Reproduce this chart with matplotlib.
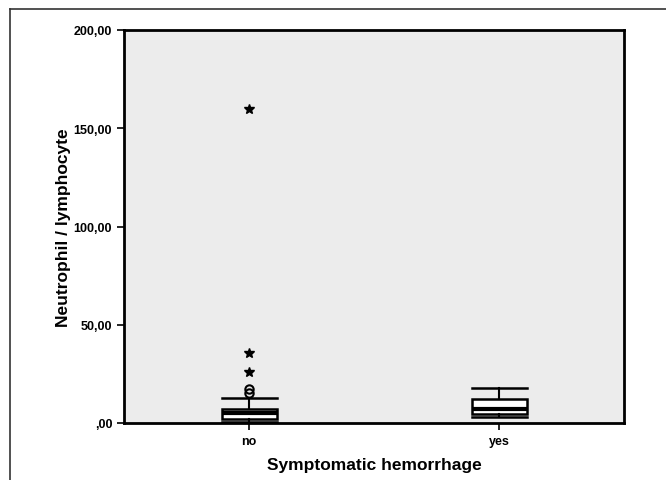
import numpy as np
import matplotlib
matplotlib.use('Agg')
import matplotlib.pyplot as plt
from matplotlib.lines import Line2D

plt.rcParams['font.family'] = ['Liberation Sans', 'DejaVu Sans']

# values
groups = ['no', 'yes']
q1 = [2.0, 4.6]
med = [5.0, 7.0]
q3 = [7.1, 12.2]
whislo = [0.3, 3.0]
whishi = [12.7, 17.8]
outliers_circle = [[15.5, 17.5], []]
outliers_star = [[26.0, 35.6, 160.0], []]

yTicks = [0, 50, 100, 150, 200]
yTickLabels = [',00', '50,00', '100,00', '150,00', '200,00']

fig = plt.figure(figsize=(6.66, 4.81), dpi=100, facecolor='w')
ax = fig.add_axes([124/666, 1-424/481, 500/666, 393/481])
ax.set_facecolor('#ececec')

stats = []
for i in range(len(groups)):
	stats.append({'label': groups[i], 'q1': q1[i], 'med': med[i], 'q3': q3[i],
				  'whislo': whislo[i], 'whishi': whishi[i], 'fliers': []})

pos = [1, 2]
ax.bxp(stats, positions=pos, widths=0.22, patch_artist=True, showfliers=False,
	   boxprops=dict(facecolor='white', edgecolor='black', linewidth=1.8),
	   medianprops=dict(color='black', linewidth=3),
	   whiskerprops=dict(color='black', linewidth=1.5),
	   capprops=dict(color='black', linewidth=1.8), capwidths=0.22)

for i, p in enumerate(pos):
	if outliers_circle[i]:
		ax.plot([p]*len(outliers_circle[i]), outliers_circle[i], 'o', mfc='none', mec='black', ms=6, mew=1.5)
	if outliers_star[i]:
		ax.plot([p]*len(outliers_star[i]), outliers_star[i], '*', color='black', ms=7)

ax.set_xlim(0.5, 2.5)
ax.set_ylim(0, 200)
ax.set_yticks(yTicks)
ax.set_yticklabels(yTickLabels, fontsize=9, fontweight='bold')
ax.set_xticks(pos)
ax.set_xticklabels(groups, fontsize=9, fontweight='bold')
ax.tick_params(axis='both', direction='out', length=5, width=1.2, color='black')
for s in ax.spines.values():
	s.set_linewidth(2)
	s.set_color('black')

ax.set_ylabel('Neutrophil / lymphocyte', fontsize=12.5, fontweight='bold', labelpad=2)
ax.set_xlabel('Symptomatic hemorrhage', fontsize=12.5, fontweight='bold', labelpad=7)

# outer frame (top and left)
fig.add_artist(Line2D([10/666, 1], [1-10/481, 1-10/481], color='#333333', lw=1.2))
fig.add_artist(Line2D([10/666, 10/666], [0, 1-10/481], color='#333333', lw=1.2))

plt.savefig('out.png', dpi=100)
